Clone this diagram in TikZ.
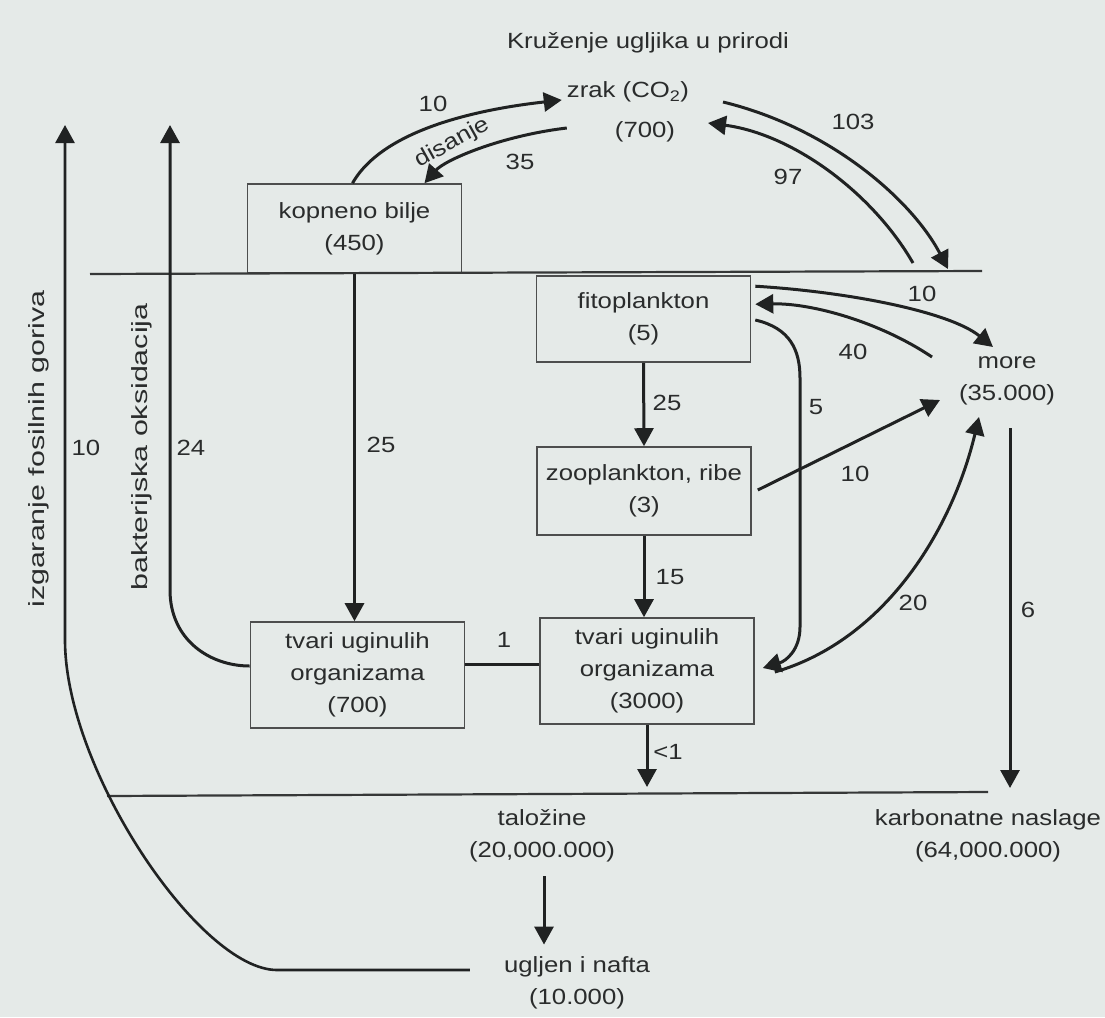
\documentclass[tikz,border=0pt]{standalone}
\usepackage{fontspec}
\usepackage{graphicx}
\setmainfont[FakeStretch=1.17]{Liberation Sans}
\usetikzlibrary{arrows.meta,calc}
\definecolor{bg}{RGB}{229,234,232}
\definecolor{ink}{RGB}{32,34,34}
\definecolor{txt}{RGB}{42,44,44}
\begin{document}
\begin{tikzpicture}[x=1pt,y=-1pt,
  every node/.style={text=txt, font=\fontsize{22}{32}\selectfont, inner sep=0pt},
  box/.style={draw=ink!80, line width=1.6pt, fill=bg, minimum width=214pt, align=center},
  arr/.style={draw=ink, line width=3pt, -{Triangle[length=18pt,width=19pt]}},
  conn/.style={draw=ink, line width=3pt},
  ground/.style={draw=ink!90, line width=2.2pt},
  vtext/.style={rotate=90}]
\path[use as bounding box, fill=bg] (0,0) rectangle (1105,1017);

% ---- nodes
\node (title) at (648,43) {Kruženje ugljika u prirodi};
\node (zrak) at (628,92) {zrak (CO\textsubscript{2})};
\node (zrakv) at (645,132) {(700)};
\node[box, minimum height=89pt] (kop) at (354.5,228.5) {kopneno bilje\\(450)};
\node[box, minimum height=86pt] (fito) at (643.5,319) {fitoplankton\\(5)};
\node[box, minimum height=88pt] (zoo) at (644,491) {zooplankton, ribe\\(3)};
\node[box, minimum height=106pt] (tv1) at (357.5,675) {tvari uginulih\\organizama\\(700)};
\node[box, minimum height=106pt] (tv2) at (647,671) {tvari uginulih\\organizama\\(3000)};
\node[align=center] (more) at (1007,381) {more\\(35.000)};
\node[align=center] (talo) at (542,836) {taložine\\(20,000.000)};
\node[align=center] (uglj) at (577,983) {ugljen i nafta\\(10.000)};
\node[align=center] (karb) at (988,836) {karbonatne naslage\\(64,000.000)};
\node[vtext] (izg) at (39,449) {\scalebox{1.18}[1]{izgaranje fosilnih goriva}};
\node[vtext] (bak) at (142,447) {\scalebox{1.18}[1]{bakterijska oksidacija}};
\node[rotate=29] (dis) at (452,143) {disanje};

% ---- ground lines
\coordinate (g1) at (90,274);
\coordinate (g2) at (982,271);
\draw[ground] (g1) -- (g2);
\coordinate (b1) at (107,796);
\coordinate (b2) at (988,792);
\draw[ground] (b1) -- (b2);

% ---- free ends
\coordinate (fosTop) at (65,125);
\coordinate (bakTop) at (170,125);
\coordinate (a103s) at (723,102);
\coordinate (a103e) at (948,269);
\coordinate (a97s) at (913,263);
\coordinate (a97e) at (708,123);
\coordinate (m10e) at (993,347);
\coordinate (m40s) at (932,357);
\coordinate (mz10e) at (940,400);
\coordinate (m20e) at (979,417);
\coordinate (m6s) at (1010,428);
\coordinate (m6e) at (1010,788);
\coordinate (lt1e) at (647,787);

% ---- air
\draw[arr] ($(kop.north)+(-2,0)$) .. controls (385,126) and (490,108) .. ($(zrak.west)+(-5,8)$);
\draw[arr] ($(zrak.west)+(0,36)$) .. controls (500,136) and (445,160) .. ($(kop.north)+(70,0)$);
\draw[arr] (a103s) .. controls (830,128) and (912,200) .. (a103e);
\draw[arr] (a97s) .. controls (872,192) and (792,134) .. (a97e);

% ---- sea
\draw[arr] ($(fito.north east)+(4,11)$) .. controls (850,292) and (950,312) .. (m10e);
\draw[arr] (m40s) .. controls (880,322) and (812,303) .. ($(fito.north east)+(4,29)$);
\draw[arr] ($(fito.east)+(4,1)$) .. controls (790,328) and (800,350) .. (800,378)
   -- (800,627) .. controls (800,650) and (786,661) .. ($(tv2.east)+(8,-3)$);
\draw[arr] ($(zoo.east)+(6,-1)$) -- (mz10e);
\draw[arr] ($(tv2.east)+(20,1)$) .. controls (885,640) and (952,530) .. (m20e);
\draw[arr] (m6s) -- (m6e);
\draw[arr] (fito.south) -- (zoo.north);
\draw[arr] (zoo.south) -- (zoo.south |- tv2.north);
\draw[arr] (tv2.south) -- (lt1e);

% ---- land
\draw[arr] (kop.south) -- (kop.south |- tv1.north);
\draw[conn] ($(tv1.east)+(0,-11)$) -- ($(tv2.west)+(0,-7)$);
\draw[arr] ($(tv1.west)+(0,-9)$) .. controls (210,666) and (170,640) .. (170,590) -- (bakTop);
\draw[draw=ink, line width=2.6pt, -{Triangle[length=18pt,width=19pt]}]
   ($(uglj.west)+(-34,-13)$) -- (277,970) .. controls (200,970) and (65,770) .. (65,640) -- (fosTop);
\draw[arr] ($(talo.south)+(2,14)$) -- ($(uglj.north)+(-33,-12)$);

% ---- labels
\node (l10f) at (86,448) {10};
\node (l24) at (191,448) {24};
\node (l25a) at (381,445) {25};
\node (l25b) at (667,403) {25};
\node (l15) at (670,577) {15};
\node (llt1) at (668,752) {<1};
\node (l1) at (504,640) {1};
\node (l5) at (816,407) {5};
\node (l40) at (853,352) {40};
\node (l10m) at (922,294) {10};
\node (l10z) at (855,474) {10};
\node (l20) at (913,603) {20};
\node (l6) at (1028,610) {6};
\node (l103) at (853,122) {103};
\node (l97) at (788,177) {97};
\node (l10d) at (433,104) {10};
\node (l35) at (520,162) {35};
\end{tikzpicture}
\end{document}
